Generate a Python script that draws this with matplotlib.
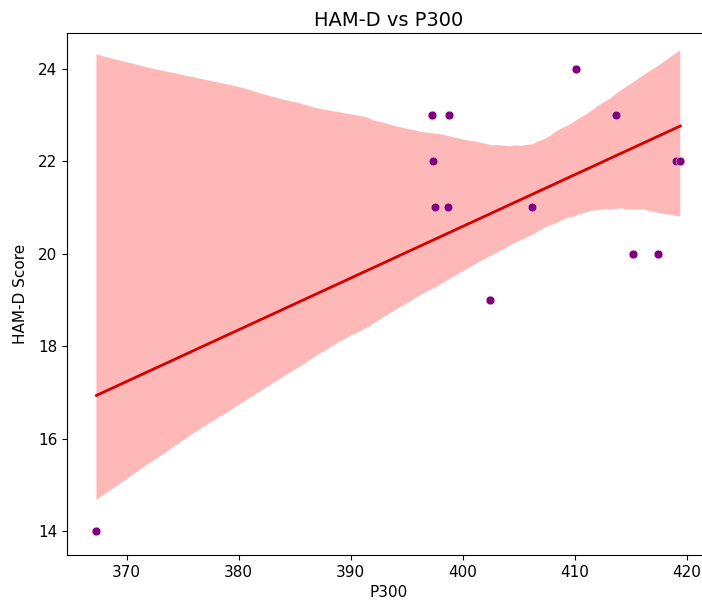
#!/usr/bin/env python3
"""HAM-D score against P300 latency with a linear fit."""
import matplotlib
matplotlib.use("Agg")
import matplotlib.pyplot as plt
import numpy as np
import seaborn as sns

# P300 latency (ms) and HAM-D score per subject
p300 = [367.3, 397.2, 398.8, 397.3, 397.5, 398.7, 402.4,
        406.2, 410.1, 413.7, 415.2, 417.4, 419.0, 419.4]
hamd = [14, 23, 23, 22, 21, 21, 19,
        21, 24, 23, 20, 20, 22, 22]


def main():
    plt.rcParams["font.size"] = 11
    fig = plt.figure(figsize=(7.02, 6.01), dpi=100)
    ax = fig.add_axes([0.0954, 0.0765, 0.916, 0.868])

    x = np.array(p300)
    y = np.array(hamd)
    sns.regplot(x=x, y=y, ax=ax, scatter=False, color="red", seed=3,
                line_kws={"color": "#d40000", "lw": 2})
    for coll in ax.collections:
        coll.set_alpha(0.28)
        coll.set_color("red")
        coll.set_edgecolor("none")
    ax.scatter(x, y, s=40, color="purple", edgecolor="white", linewidth=0.3, zorder=3)

    ax.set_xlim(364.67, 422.05)
    ax.set_ylim(13.49, 24.76)
    ax.set_title("HAM-D vs P300", fontsize=14, pad=5)
    ax.set_xlabel("P300")
    ax.set_ylabel("HAM-D Score", labelpad=7)
    fig.savefig("out.png", dpi=100)
    plt.close(fig)


if __name__ == "__main__":
    main()
